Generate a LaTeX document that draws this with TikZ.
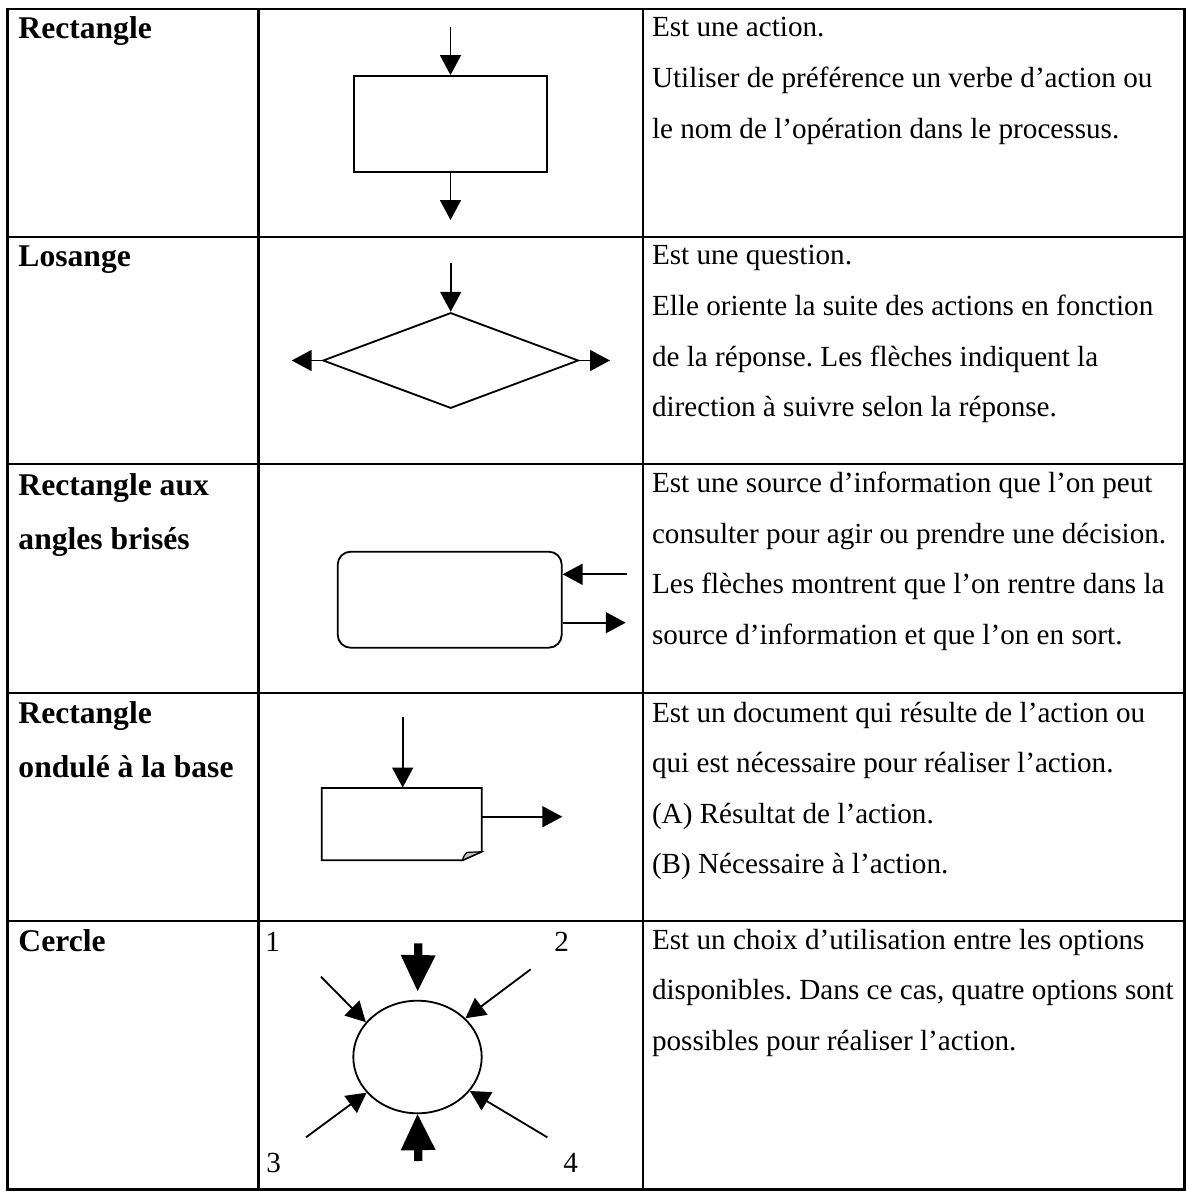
\documentclass[tikz,border=0pt]{standalone}
\usepackage{fontspec}
\setmainfont{Liberation Serif}
\usetikzlibrary{arrows.meta,shapes.geometric}
\newcommand{\pxu}{0.4115pt}
\frenchspacing
\tikzset{
  lbl/.style={anchor=base west, inner sep=0pt, font=\fontsize{13}{15}\selectfont\bfseries},
  txt/.style={anchor=base west, inner sep=0pt, font=\fontsize{12}{14}\selectfont},
  shp/.style={draw, line width=0.75pt, inner sep=0pt},
  arr/.style={line width=0.75pt, -{Triangle[length=8.2pt,width=8.6pt]}},
  bigarr/.style={line width=3.4pt, -{Triangle[length=14.8pt,width=14.4pt,line width=0pt]}},
  gridline/.style={line width=1.2pt}
}
\begin{document}
\begin{tikzpicture}[x=0.4115pt,y=-0.4115pt]
\useasboundingbox (0,0) rectangle (1186,1192);
% table
\draw[gridline] (7.5,9) rectangle (1184.5,1189.5);
\draw[gridline] (258.5,9) -- (258.5,1189.5);
\draw[gridline] (643,9) -- (643,1189.5);
\foreach \yy in {237,464,693,921} \draw[gridline] (7.5,\yy) -- (1184.5,\yy);
% left labels
\node[lbl] (l1) at (18,39) {Rectangle};
\node[lbl] (l2) at (18,267) {Losange};
\node[lbl] (l3a) at (18,495) {Rectangle aux};
\node[lbl] (l3b) at (18,549.5) {angles brisés};
\node[lbl] (l4a) at (18,723) {Rectangle};
\node[lbl] (l4b) at (18,777.5) {ondulé à la base};
\node[lbl] (l5) at (18,951) {Cercle};
% right texts
\node[txt] (t1a) at (651.5,37) {Est une action.};
\node[txt] (t1b) at (651.5,87.6) {Utiliser de préférence un verbe d’action ou};
\node[txt] (t1c) at (651.5,138.2) {le nom de l’opération dans le processus.};
\node[txt] (t2a) at (651.5,265) {Est une question.};
\node[txt] (t2b) at (651.5,315.6) {Elle oriente la suite des actions en fonction};
\node[txt] (t2c) at (651.5,366.2) {de la réponse. Les flèches indiquent la};
\node[txt] (t2d) at (651.5,416.8) {direction à suivre selon la réponse.};
\node[txt] (t3a) at (651.5,492.5) {Est une source d’information que l’on peut};
\node[txt] (t3b) at (651.5,543.1) {consulter pour agir ou prendre une décision.};
\node[txt] (t3c) at (651.5,593.7) {Les flèches montrent que l’on rentre dans la};
\node[txt] (t3d) at (651.5,644.3) {source d’information et que l’on en sort.};
\node[txt] (t4a) at (651.5,722) {Est un document qui résulte de l’action ou};
\node[txt] (t4b) at (651.5,772.6) {qui est nécessaire pour réaliser l’action.};
\node[txt] (t4c) at (651.5,823.2) {(A) Résultat de l’action.};
\node[txt] (t4d) at (651.5,873.8) {(B) Nécessaire à l’action.};
\node[txt] (t5a) at (651.5,949) {Est un choix d’utilisation entre les options};
\node[txt] (t5b) at (651.5,999.6) {disponibles. Dans ce cas, quatre options sont};
\node[txt] (t5c) at (651.5,1050.2) {possibles pour réaliser l’action.};
% row 1: rectangle
\node[shp, minimum width=193*\pxu, minimum height=96*\pxu] (rect) at (450.5,124) {};
\coordinate (r0) at (450.5,27);
\coordinate (r1) at (450.5,220);
\draw[arr] (r0) -- (rect.north);
\draw[arr] (rect.south) -- (r1);
% row 2: diamond
\node[shp, diamond, minimum width=255.6*\pxu, minimum height=95.6*\pxu] (dia) at (450.7,360.5) {};
\coordinate (d0) at (450.7,262.7);
\coordinate (dl) at (291.7,360.5);
\coordinate (dr) at (610,360.5);
\draw[arr] (d0) -- (dia.north);
\draw[arr] (dia.west) -- (dl);
\draw[arr] (dia.east) -- (dr);
% row 3: rounded box
\node[shp, rounded corners=5.3pt, minimum width=224*\pxu, minimum height=96*\pxu] (rbox) at (449.7,599.7) {};
\coordinate (b0) at (626.7,574.3);
\coordinate (b1) at (625.7,622.7);
\draw[arr] (b0) -- (b0 -| rbox.east);
\draw[arr] (b1 -| rbox.east) -- (b1);
% row 4: document
\node[inner sep=0pt, minimum width=160*\pxu, minimum height=72.3*\pxu] (doc) at (401.7,824.15) {};
\draw[line width=0.75pt, line join=miter] (321.7,788) -- (481.7,788) -- (481.7,851.7) -- (462.3,860.3) -- (321.7,860.3) -- cycle;
\draw[line width=0.5pt, fill=black!25] (462.3,860.3) .. controls (463.5,856.5) and (465,853.8) .. (467,852.4) -- (481.7,851.7) -- cycle;
\coordinate (c0) at (402.7,716.7);
\coordinate (c1) at (562.3,816.7);
\draw[arr] (c0) -- (c0 |- doc.north);
\draw[arr] (c1 -| doc.east) -- (c1);
% row 5: circle
\node[shp, ellipse, minimum width=128.4*\pxu, minimum height=112.6*\pxu] (ell) at (417.5,1057) {};
\coordinate (e1) at (321,976.7);
\coordinate (e2) at (530.7,969.3);
\coordinate (e3) at (306,1137.3);
\coordinate (e4) at (547.3,1137.3);
\coordinate (et) at (418.3,943.3);
\coordinate (eb) at (418.3,1161);
\draw[arr] (e1) -- (ell.146);
\draw[arr] (e2) -- (ell.39);
\draw[arr] (e3) -- (ell.215);
\draw[arr] (e4) -- (ell.327);
\draw[bigarr, shorten >=3.6pt] (et) -- (ell.north);
\draw[bigarr] (eb) -- (ell.south);
\node[txt] (n1) at (265,951) {1};
\node[txt] (n2) at (554,951) {2};
\node[txt] (n3) at (266,1172) {3};
\node[txt] (n4) at (563,1172) {4};
\end{tikzpicture}
\end{document}
